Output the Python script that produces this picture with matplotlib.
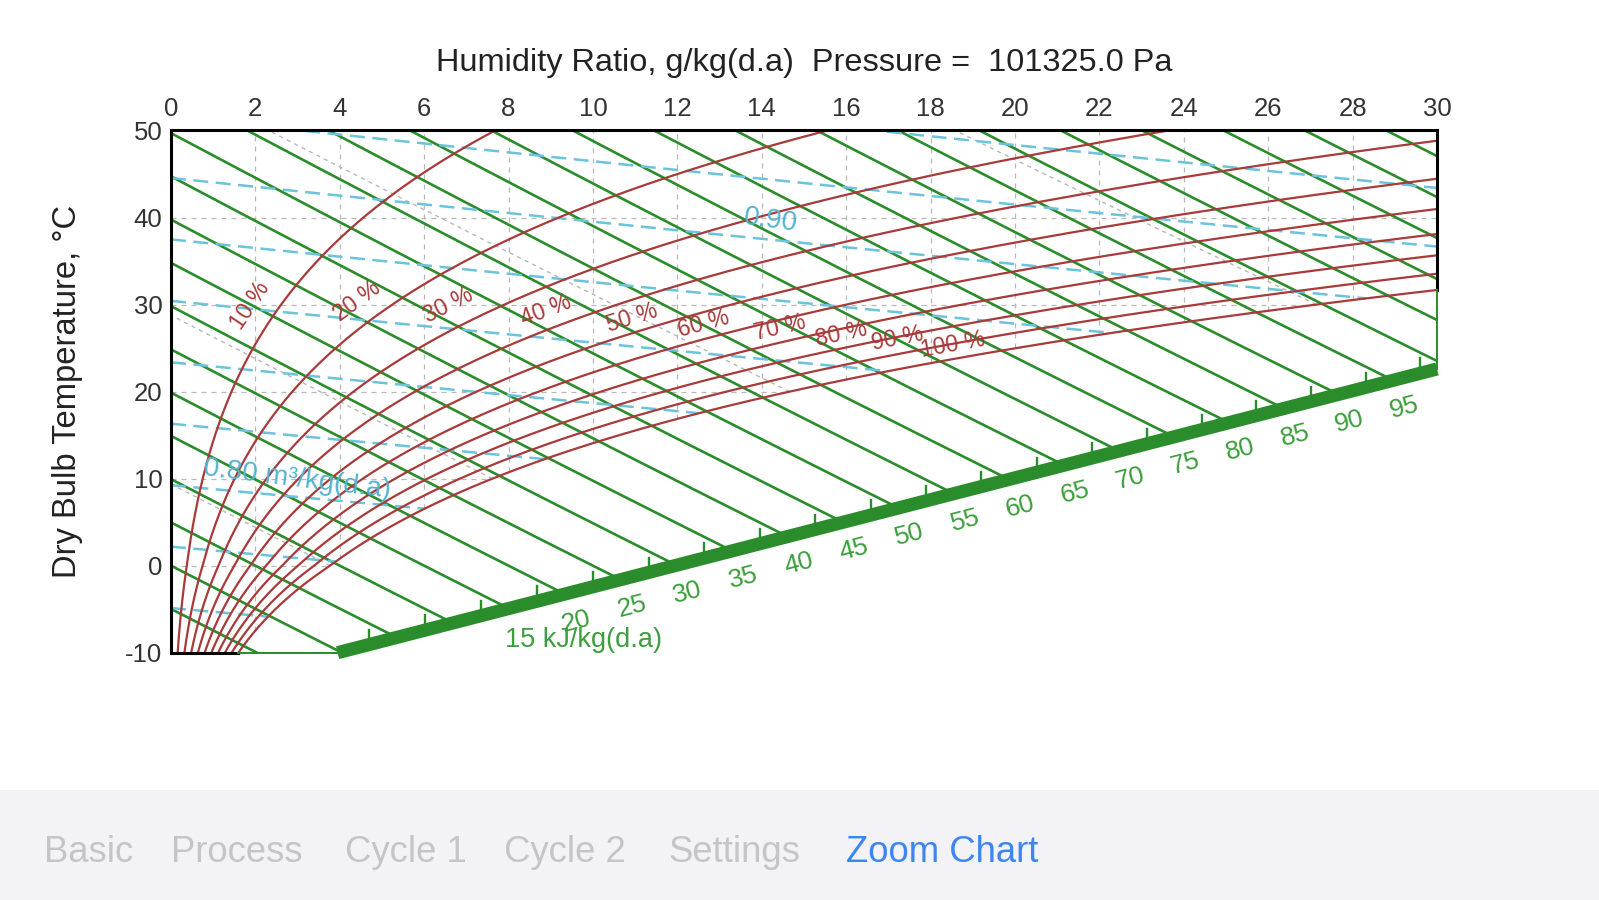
import numpy as np
import matplotlib.pyplot as plt
from matplotlib.patches import Rectangle

plt.rcParams['font.family'] = ['Liberation Sans', 'DejaVu Sans']
plt.rcParams['axes.unicode_minus'] = False

PRESSURE = 101.325  # kPa

# chart values
rh_levels = [0.1, 0.2, 0.3, 0.4, 0.5, 0.6, 0.7, 0.8, 0.9, 1.0]
rh_labels = ['10 %', '20 %', '30 %', '40 %', '50 %', '60 %', '70 %', '80 %', '90 %', '100 %']
enthalpy_levels = list(range(-5, 130, 5))          # kJ/kg(d.a)
enthalpy_scale_labels = list(range(15, 100, 5))
volume_levels = [0.76, 0.78, 0.80, 0.82, 0.84, 0.86, 0.88, 0.90, 0.92, 0.94]  # m3/kg
volume_labels = {0.90: '0.90', 0.80: '0.80 m³/kg(d.a)'}
wetbulb_levels = [0, 10, 20, 30]
w_ticks = list(range(0, 31, 2))
t_ticks = list(range(-10, 51, 10))
tab_names = ['Basic', 'Process', 'Cycle 1', 'Cycle 2', 'Settings', 'Zoom Chart']
active_tab = 'Zoom Chart'

# where the labels sit (humidity ratio, temperature)
rh_label_pos = [(1.87, 29.9), (4.41, 30.4), (6.58, 29.9), (8.88, 29.3), (10.93, 28.5),
                (12.62, 27.8), (14.43, 27.3), (15.88, 26.6), (17.21, 26.1), (18.54, 25.4)]
volume_label_pos = {0.90: (14.2, 39.6), 0.80: (3.0, 9.9)}
scale_ends = ((3.95, -10.0), (30.0, 22.6))

GREEN = '#2a8c2a'
GREEN_TXT = '#3c9e3c'
RED = '#a83a3a'
BLUE = '#6cc3dc'
BLUE_TXT = '#55b4d2'
GRID = '#b8b8b8'


def p_sat(t):
    t = np.asarray(t, float)
    water = 0.61094 * np.exp(17.625 * t / (t + 243.04))
    ice = 0.61115 * np.exp(22.452 * t / (272.55 + t))
    return np.where(t >= 0, water, ice)


def w_of_pv(pv):
    return 622.0 * pv / (PRESSURE - pv)


def enthalpy(w, t):
    return 1.006 * t + w / 1000.0 * (2501 + 1.86 * t)


t_fine = np.linspace(-10, 60, 4000)
w_sat_fine = w_of_pv(p_sat(t_fine))


def t_sat(w):
    return np.interp(w, w_sat_fine, t_fine)


(sw0, st0), (sw1, st1) = scale_ends
scale_w = np.linspace(sw0, sw1, 3000)
scale_t = st0 + (scale_w - sw0) * (st1 - st0) / (sw1 - sw0)
scale_h = enthalpy(scale_w, scale_t)


def scale_point(h):
    w = np.interp(h, scale_h, scale_w)
    return w, st0 + (w - sw0) * (st1 - st0) / (sw1 - sw0)


fig = plt.figure(figsize=(15.99, 9), dpi=100)
ax = fig.add_axes([0.1069, 0.2748, 0.7918, 0.5802])
ax.set_xlim(0, 30)
ax.set_ylim(-10, 50)
for s in ax.spines.values():
    s.set_visible(False)


def angle_at(x0, y0, x1, y1):
    p0 = ax.transData.transform((x0, y0))
    p1 = ax.transData.transform((x1, y1))
    return np.degrees(np.arctan2(p1[1] - p0[1], p1[0] - p0[0]))


# grid, only inside the unsaturated region
grid_kw = dict(color=GRID, lw=0.9, ls=(0, (4, 4)), zorder=1)
for w in w_ticks[1:-1]:
    ax.plot([w, w], [max(-10, t_sat(w)), 50], **grid_kw)
for t in t_ticks[1:-1]:
    ax.plot([0, min(30, w_of_pv(p_sat(t)))], [t, t], **grid_kw)

# wet bulb lines
for twb in wetbulb_levels:
    t = np.linspace(twb, 60, 400)
    ws = w_of_pv(p_sat(twb))
    w = ((2501 - 2.326 * twb) * ws - 1006 * (t - twb)) / (2501 + 1.86 * t - 4.186 * twb)
    keep = w >= 0
    ax.plot(w[keep], t[keep], color=GRID, lw=1.0, ls=(0, (3, 3)), zorder=1.2)

# enthalpy lines
for h in enthalpy_levels:
    if h < scale_h[0]:
        w_end = (h - 1.006 * -10) / ((2501 + 1.86 * -10) / 1000)
    elif h <= scale_h[-1]:
        w_end = scale_point(h)[0]
    else:
        w_end = 30
    w = np.linspace(0, w_end, 300)
    t = (h - 2.501 * w) / (1.006 + 0.00186 * w)
    ax.plot(w, t, color=GREEN, lw=1.9, zorder=2)

# specific volume lines
for v in volume_levels:
    w = np.linspace(0, 30, 3000)
    t = v * PRESSURE / (0.287042 * (1 + 1.607858 * w / 1000)) - 273.15
    keep = t >= t_sat(w) - 1e-9
    ax.plot(w[keep], t[keep], color=BLUE, lw=1.8, dashes=(6, 3), zorder=2.5)
    if v in volume_labels:
        lw_, lt_ = volume_label_pos[v]
        tt = v * PRESSURE / (0.287042 * (1 + 1.607858 * np.array([lw_ - 1, lw_ + 1]) / 1000)) - 273.15
        ang = angle_at(lw_ - 1, tt[0], lw_ + 1, tt[1])
        ax.text(lw_, lt_, volume_labels[v], color=BLUE_TXT, fontsize=20, rotation=ang * 1.3,
                rotation_mode='anchor', ha='center', va='center', zorder=5)

# relative humidity curves
t_curve = np.linspace(-10, 50, 2000)
for r, lab, (lx, ly) in zip(rh_levels, rh_labels, rh_label_pos):
    w = w_of_pv(r * p_sat(t_curve))
    ax.plot(w, t_curve, color=RED, lw=1.6, zorder=3)
    pts = ax.transData.transform(np.column_stack([w, t_curve]))
    tgt = ax.transData.transform((lx, ly))
    i = int(np.argmin(np.hypot(pts[:, 0] - tgt[0], pts[:, 1] - tgt[1])))
    i = min(max(i, 5), len(w) - 6)
    d = pts[i + 5] - pts[i - 5]
    ang = np.degrees(np.arctan2(d[1], d[0]))
    ax.text(lx, ly, lab, color=RED, fontsize=16.5, rotation=ang, rotation_mode='anchor',
            ha='center', va='center', zorder=5)

# enthalpy scale
ax.plot([sw0, sw1], [st0, st1], color=GREEN, lw=9.5, solid_capstyle='butt', zorder=3.5, clip_on=False)
for h in np.arange(2.5, 99, 5):
    tw, tt = scale_point(h)
    ax.plot([tw, tw], [tt, tt + 1.7], color=GREEN, lw=1.7, zorder=3.5, clip_on=False)
scale_ang = angle_at(sw0, st0, sw1, st1)
ux, uy = np.cos(np.radians(scale_ang)), np.sin(np.radians(scale_ang))
for h in enthalpy_scale_labels:
    pw, pt = scale_point(h)
    if h == 15:
        ax.annotate('15 kJ/kg(d.a)', (pw, pt), xytext=(-4, -32), textcoords='offset pixels',
                    color=GREEN_TXT, fontsize=19.5, ha='left', va='center', zorder=5)
    else:
        off = (29 * uy + 4 * ux, -29 * ux + 4 * uy)
        ax.annotate(str(h), (pw, pt), xytext=off, textcoords='offset pixels', color=GREEN_TXT,
                    fontsize=19, rotation=scale_ang, rotation_mode='anchor',
                    ha='center', va='center', zorder=5)

# frame: black where the chart is bounded, green towards the scale
w_sat_bottom = w_of_pv(p_sat(-10.0))
t_sat_right = t_sat(30.0)
frame_kw = dict(color='black', lw=2.2, zorder=6, clip_on=False, solid_capstyle='projecting')
ax.plot([0, 0], [-10, 50], **frame_kw)
ax.plot([0, 30], [50, 50], **frame_kw)
ax.plot([30, 30], [50, t_sat_right], **frame_kw)
ax.plot([0, w_sat_bottom], [-10, -10], **frame_kw)
ax.plot([w_sat_bottom, sw0], [-10, -10], color=GREEN, lw=1.4, zorder=6, clip_on=False)
ax.plot([30, 30], [t_sat_right, st1], color=GREEN, lw=1.4, zorder=6, clip_on=False)

ax.xaxis.tick_top()
ax.set_xticks(w_ticks)
ax.set_yticks(t_ticks)
ax.tick_params(axis='x', length=0, pad=7, labelsize=18.5, labelcolor='#333333')
ax.tick_params(axis='y', length=0, pad=6, labelsize=18.5, labelcolor='#333333')

fig.text(804 / 1599, 1 - 63 / 900, 'Humidity Ratio, g/kg(d.a)  Pressure =  101325.0 Pa',
         ha='center', va='center', fontsize=23.4, color='#222222')
fig.text(68 / 1599, 1 - 391.5 / 900, 'Dry Bulb Temperature, °C', rotation=90,
         ha='center', va='center', fontsize=23.6, color='#222222')

# tab bar at the bottom
fig.patches.append(Rectangle((0, 0), 1, 110 / 900, transform=fig.transFigure,
                             facecolor='#f2f2f7', edgecolor='none', zorder=0))
tab_x = [44, 171, 345, 504, 668, 846]
for name, x in zip(tab_names, tab_x):
    fig.text(x / 1599, 1 - 852 / 900, name, ha='left', va='center', fontsize=26.3,
             color='#3d86ef' if name == active_tab else '#c5c5c9')

fig.savefig('out.png', dpi=100)
